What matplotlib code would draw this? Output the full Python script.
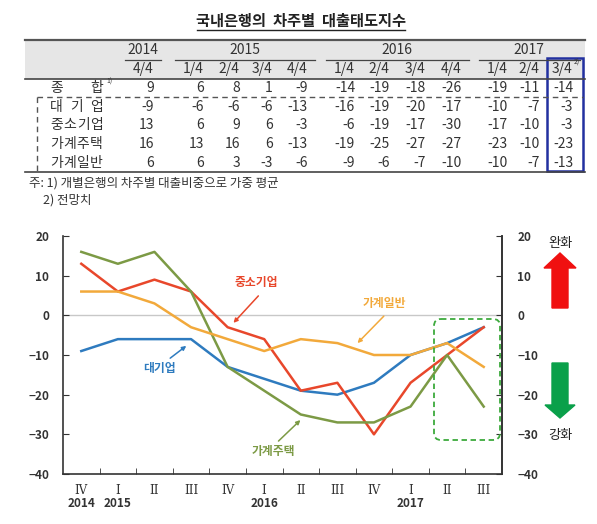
import numpy as np
import matplotlib.pyplot as plt
from matplotlib.patches import Rectangle, FancyArrow, FancyBboxPatch
import matplotlib.transforms as mtransforms

plt.rcParams['font.family'] = ['Noto Sans CJK KR', 'DejaVu Sans']

# ---- data ----
years = ["2014", "2015", "2016", "2017"]
year_quarters = [1, 4, 4, 3]
quarters = ["4/4", "1/4", "2/4", "3/4", "4/4", "1/4", "2/4", "3/4", "4/4", "1/4", "2/4", "3/4"]
x_roman = ["IV", "I", "II", "III", "IV", "I", "II", "III", "IV", "I", "II", "III"]

total = [9, 6, 8, 1, -9, -14, -19, -18, -26, -19, -11, -14]
large_firms = [-9, -6, -6, -6, -13, -16, -19, -20, -17, -10, -7, -3]
sme = [13, 6, 9, 6, -3, -6, -19, -17, -30, -17, -10, -3]
hh_housing = [16, 13, 16, 6, -13, -19, -25, -27, -27, -23, -10, -23]
hh_general = [6, 6, 3, -3, -6, -9, -6, -7, -10, -10, -7, -13]

row_labels = ["종합", "대기업", "중소기업", "가계주택", "가계일반"]
row_values = [total, large_firms, sme, hh_housing, hh_general]

series_names = ["대기업", "중소기업", "가계주택", "가계일반"]
series_values = [large_firms, sme, hh_housing, hh_general]
series_colors = ["#2E7BBF", "#E8472B", "#7C9A45", "#F2A93B"]

W, H = 597, 524
fig = plt.figure(figsize=(W / 100, H / 100), dpi=100)

# overlay in pixel coordinates for table and decorations
ov = fig.add_axes([0, 0, 1, 1], zorder=5)
ov.set_xlim(0, W)
ov.set_ylim(H, 0)
ov.axis("off")

# title
ov.text(301, 21, "국내은행의  차주별  대출태도지수", ha="center", va="center",
        fontsize=11, fontweight="bold", color="#222222")
ov.plot([197, 405], [30, 30], color="#222222", lw=1)

# table header
ov.add_patch(Rectangle((25, 40), 560, 39, facecolor="#E6E6E6", edgecolor="none"))
ov.plot([25, 585], [40, 40], color="#555555", lw=1.6)
ov.plot([25, 585], [79, 79], color="#444444", lw=1.2)
ov.plot([25, 585], [172, 172], color="#444444", lw=1.2)

col_x = [143, 193, 229, 262, 297, 344, 379, 415, 451, 497, 529, 562]
tcol = "#333333"
for i, q in enumerate(quarters):
    ov.text(col_x[i], 69, q, ha="center", va="center", fontsize=10, color=tcol)
ov.text(577, 63, "2)", ha="center", va="center", fontsize=5, color=tcol)

start = 0
for y, n in zip(years, year_quarters):
    xs = col_x[start:start + n]
    ov.text(np.mean(xs), 50, y, ha="center", va="center", fontsize=10, color=tcol)
    ov.plot([xs[0] - 18, xs[-1] + 18], [60, 60], color="#444444", lw=0.9)
    start += n

row_y = [88, 107, 125, 144, 163]
for ry, label, vals in zip(row_y, row_labels, row_values):
    cx = np.linspace(56.5, 96.5, len(label))
    for c, ch in zip(cx, label):
        ov.text(c, ry, ch, ha="center", va="center", fontsize=10, color=tcol)
    for i, v in enumerate(vals):
        ov.text(col_x[i] + 11, ry, str(v), ha="right", va="center", fontsize=10, color=tcol)
ov.text(109, 82, "1)", ha="center", va="center", fontsize=5, color=tcol)

# dashed grouping line
ov.plot([37, 583], [97, 97], color="#555555", lw=1, ls=(0, (4, 3)))
ov.plot([37, 37], [97, 172], color="#555555", lw=1, ls=(0, (4, 3)))

# forecast column box
ov.add_patch(Rectangle((547, 58), 36, 113, facecolor="none", edgecolor="#2230A0", lw=1.8))

# footnotes
ov.text(29, 183, "주: 1) 개별은행의 차주별 대출비중으로 가중 평균", ha="left", va="center",
        fontsize=9, color=tcol)
ov.text(43, 200, "2) 전망치", ha="left", va="center", fontsize=9, color=tcol)

# ---- chart ----
ax = fig.add_axes([63 / W, 1 - 474 / H, 439 / W, 238 / H])
x = np.arange(len(quarters))
for name, vals, col in zip(series_names, series_values, series_colors):
    ax.plot(x, vals, color=col, lw=1.8, label=name, zorder=3)
ax.axhline(0, color="#C8C8C8", lw=1, zorder=1)

ax.set_xlim(-0.5, len(quarters) - 0.5)
ax.set_ylim(-40, 20)
ax.set_yticks(np.arange(-40, 21, 10))
ax.spines["top"].set_visible(False)
for s in ["left", "right", "bottom"]:
    ax.spines[s].set_color("#333333")
    ax.spines[s].set_linewidth(1.2)

ax.set_xticks(x)
ax.set_xticklabels(x_roman, family="DejaVu Serif", fontsize=8.5, color="#333333")
ax.tick_params(axis="x", which="major", length=0, pad=7)
ax.set_xticks(np.arange(0.5, len(quarters) - 1, 1), minor=True)
ax.tick_params(axis="x", which="minor", direction="in", length=4, color="#333333")
ax.tick_params(axis="y", direction="in", length=4, pad=10, labelsize=8.5,
               labelcolor="#333333", color="#333333")
for t in ax.get_yticklabels():
    t.set_fontweight("bold")

ax2 = ax.twinx()
ax2.set_ylim(-40, 20)
ax2.set_yticks(np.arange(-40, 21, 10))
ax2.tick_params(axis="y", direction="in", length=4, pad=11, labelsize=8.5,
                labelcolor="#333333", color="#333333")
for t in ax2.get_yticklabels():
    t.set_fontweight("bold")
for s in ["top", "left", "bottom"]:
    ax2.spines[s].set_visible(False)
ax2.spines["right"].set_color("#333333")
ax2.spines["right"].set_linewidth(1.2)

# year labels under the quarter numerals
trans = mtransforms.blended_transform_factory(ax.transData, ax.transAxes)
start = 0
for y, n in zip(years, year_quarters):
    ax.text(start, -0.125, y, transform=trans, ha="center", va="center",
            fontsize=8.5, fontweight="bold", color="#333333")
    start += n

# series annotations
ann = [
    ("중소기업", (4.79, 8.2), (4.84, 4.9), (4.16, -1.9), series_colors[1]),
    ("가계일반", (8.29, 3.1), (8.27, -0.2), (7.55, -7.0), series_colors[3]),
    ("대기업", (2.13, -13.3), (2.43, -10.8), (2.87, -7.7), series_colors[0]),
    ("가계주택", (5.25, -34.4), (5.39, -31.7), (5.99, -26.4), series_colors[2]),
]
for label, tpos, a0, a1, col in ann:
    ax.text(tpos[0], tpos[1], label, ha="center", va="center", fontsize=8.5,
            fontweight="bold", color=col, zorder=4)
    ax.annotate("", xy=a1, xytext=a0,
                arrowprops=dict(arrowstyle="-|>", color=col, lw=1.1,
                                mutation_scale=6, shrinkA=0, shrinkB=0))

# forecast highlight box
ov.add_patch(FancyBboxPatch((434, 319), 66, 121, boxstyle="round,pad=0,rounding_size=7",
                            facecolor="none", edgecolor="#3DAA3D", lw=1.3, ls=(0, (3, 2))))

# easing / tightening arrows
ov.add_patch(FancyArrow(560, 308, 0, -55, width=16, head_width=32, head_length=15,
                        length_includes_head=True, color="#F01010"))
ov.add_patch(FancyArrow(560, 363, 0, 55, width=16, head_width=30, head_length=13,
                        length_includes_head=True, color="#0AA04A"))
ov.text(560, 243, "완화", ha="center", va="center", fontsize=9.5, color="#222222")
ov.text(560, 435, "강화", ha="center", va="center", fontsize=9.5, color="#222222")

fig.savefig("out.png", dpi=100)
